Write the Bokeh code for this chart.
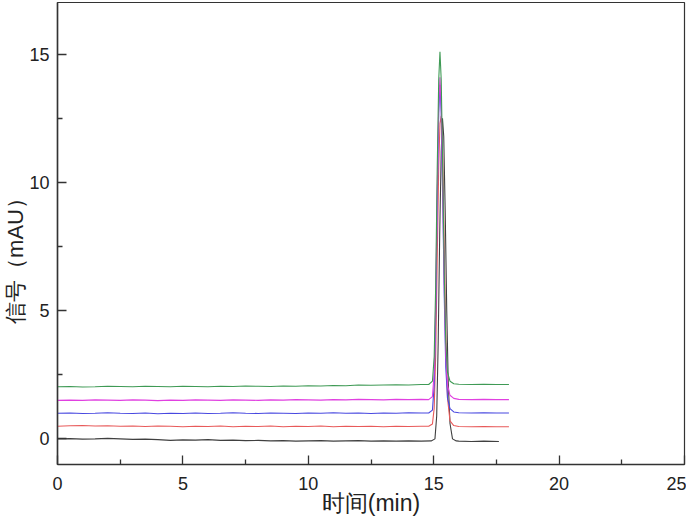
from bokeh.plotting import figure
from bokeh.models import Range1d, FixedTicker
from bokeh.embed import file_html
from bokeh.resources import INLINE

# ---- data ----
t_base = [0.0, 0.5, 1.0, 1.5, 2.0, 2.5, 3.0, 3.5, 4.0, 4.5, 5.0, 5.5, 6.0, 6.5, 7.0,
          7.5, 8.0, 8.5, 9.0, 9.5, 10.0, 10.5, 11.0, 11.5, 12.0, 12.5, 13.0, 13.5, 14.0, 14.5]

black_base = [0.00, 0.01, -0.01, 0.00, 0.02, 0.00, -0.02, -0.01, -0.03, -0.06, -0.04, -0.05, -0.03, -0.06, -0.05,
              -0.07, -0.06, -0.08, -0.07, -0.09, -0.08, -0.07, -0.09, -0.08, -0.07, -0.09, -0.08, -0.09, -0.08, -0.09]
red_base = [0.49, 0.51, 0.52, 0.50, 0.51, 0.49, 0.50, 0.48, 0.50, 0.49, 0.47, 0.49, 0.48, 0.50, 0.47,
            0.49, 0.48, 0.50, 0.47, 0.49, 0.48, 0.50, 0.47, 0.49, 0.48, 0.49, 0.47, 0.49, 0.48, 0.49]
blue_base = [1.00, 1.01, 0.99, 1.00, 1.02, 1.00, 0.99, 1.01, 0.98, 1.00, 0.99, 1.01, 0.99, 1.00, 1.02,
             1.00, 0.99, 1.01, 1.00, 0.99, 1.01, 1.00, 1.02, 1.00, 1.01, 0.99, 1.01, 1.00, 1.02, 1.01]
magenta_base = [1.50, 1.51, 1.50, 1.52, 1.51, 1.50, 1.52, 1.51, 1.49, 1.51, 1.50, 1.52, 1.51, 1.50, 1.52,
                1.51, 1.50, 1.52, 1.51, 1.53, 1.52, 1.51, 1.53, 1.52, 1.54, 1.53, 1.52, 1.54, 1.53, 1.54]
green_base = [2.03, 2.04, 2.02, 2.03, 2.05, 2.04, 2.03, 2.05, 2.04, 2.03, 2.05, 2.04, 2.03, 2.05, 2.04,
              2.06, 2.05, 2.04, 2.06, 2.05, 2.07, 2.06, 2.08, 2.07, 2.10, 2.09, 2.10, 2.11, 2.10, 2.12]

t_peak = [14.8, 14.95, 15.02, 15.08, 15.14, 15.2, 15.25, 15.3, 15.36, 15.42, 15.48, 15.55, 15.65, 15.8]
green_peak = [2.12, 2.25, 3.2, 6.0, 10.5, 14.0, 15.1, 14.0, 10.5, 6.5, 3.8, 2.6, 2.25, 2.15]
magenta_peak = [1.53, 1.65, 2.6, 5.3, 9.6, 13.0, 14.1, 13.0, 9.7, 6.0, 3.3, 2.1, 1.7, 1.58]
blue_peak = [1.01, 1.12, 2.1, 4.8, 9.2, 12.7, 13.8, 12.7, 9.4, 5.6, 2.8, 1.6, 1.18, 1.05]
red_peak = [0.49, 0.58, 1.2, 3.3, 7.0, 10.6, 12.3, 12.6, 11.0, 7.5, 4.2, 1.6, 0.7, 0.52]

t_peak_black = [14.9, 15.05, 15.12, 15.18, 15.24, 15.3, 15.35, 15.4, 15.46, 15.52, 15.58, 15.65, 15.75, 15.9]
black_peak = [-0.08, 0.0, 0.9, 3.8, 8.0, 11.2, 12.5, 11.8, 8.8, 5.0, 2.2, 0.6, 0.0, -0.08]

t_tail = [16.0, 16.5, 17.0, 17.5, 18.0]
green_tail = [2.13, 2.12, 2.13, 2.12, 2.12]
magenta_tail = [1.54, 1.53, 1.54, 1.53, 1.53]
blue_tail = [1.02, 1.01, 1.02, 1.01, 1.01]
red_tail = [0.48, 0.47, 0.48, 0.47, 0.47]
t_tail_black = [16.0, 16.5, 17.0, 17.6]
black_tail = [-0.09, -0.10, -0.09, -0.10]

x_ticks = [0, 5, 10, 15, 20, 25]
y_ticks = [0, 5, 10, 15]
x_label = "时间(min)"
y_label = "信号（mAU）"

series = [
    ("#404040", t_base + t_peak_black + t_tail_black, black_base + black_peak + black_tail),
    ("#e85a5a", t_base + t_peak + t_tail, red_base + red_peak + red_tail),
    ("#4848e0", t_base + t_peak + t_tail, blue_base + blue_peak + blue_tail),
    ("#e040e0", t_base + t_peak + t_tail, magenta_base + magenta_peak + magenta_tail),
    ("#3f9a55", t_base + t_peak + t_tail, green_base + green_peak + green_tail),
]

p = figure(width=686, height=518, output_backend="svg", toolbar_location=None,
           x_range=Range1d(0, 25), y_range=Range1d(-1.0, 17.02),
           min_border_left=57, min_border_right=2, min_border_top=2, min_border_bottom=54)

for color, xs, ys in series:
    p.line(xs, ys, line_color=color, line_width=1.1)

p.xgrid.visible = False
p.ygrid.visible = False
p.outline_line_color = "#333333"
p.outline_line_width = 1.2
p.background_fill_color = "white"
p.border_fill_color = "white"

for ax in (p.xaxis[0], p.yaxis[0]):
    ax.axis_line_color = "#333333"
    ax.axis_line_width = 1.5
    ax.major_tick_in = 9
    ax.major_tick_out = 0
    ax.minor_tick_in = 5
    ax.minor_tick_out = 0
    ax.major_tick_line_color = "#333333"
    ax.minor_tick_line_color = "#333333"
    ax.major_tick_line_width = 1.3
    ax.minor_tick_line_width = 1.3
    ax.major_label_text_font = "Liberation Sans"
    ax.major_label_text_font_size = "18px"
    ax.major_label_text_color = "#222222"
    ax.axis_label_text_font = "Liberation Sans"
    ax.axis_label_text_font_style = "normal"
    ax.axis_label_text_color = "#222222"

p.xaxis[0].ticker = FixedTicker(ticks=x_ticks, minor_ticks=[2.5, 7.5, 12.5, 17.5, 22.5])
p.yaxis[0].ticker = FixedTicker(ticks=y_ticks, minor_ticks=[2.5, 7.5, 12.5])
p.xaxis[0].major_label_standoff = 12
p.yaxis[0].major_label_standoff = 8
p.xaxis[0].axis_label = x_label
p.yaxis[0].axis_label = y_label + "\u3000\u3000"
p.xaxis[0].axis_label_text_font_size = "23px"
p.yaxis[0].axis_label_text_font_size = "22px"
p.xaxis[0].axis_label_standoff = -3
p.yaxis[0].axis_label_standoff = -2

open("out.html", "w").write(file_html(p, INLINE))
